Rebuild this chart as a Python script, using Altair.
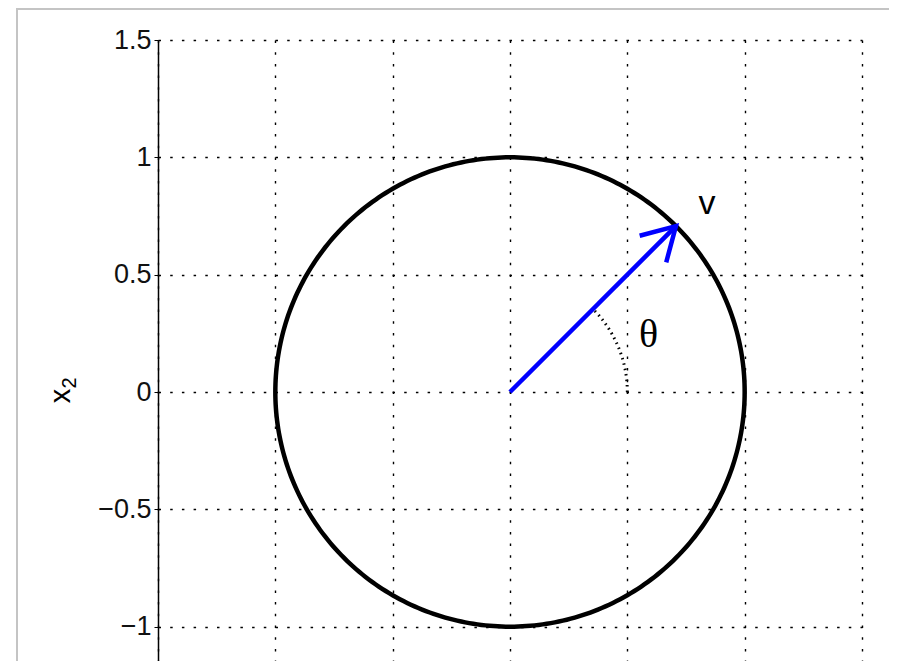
import numpy as np
import pandas as pd
import altair as alt

# ---- values ----
x_grid = [-1.5, -1.0, -0.5, 0.0, 0.5, 1.0, 1.5]
y_ticks = [-1.0, -0.5, 0.0, 0.5, 1.0, 1.5]
x_domain = [-1.5, 1.5]
y_top = 1.5
circle_radius = 1.0
vector_angle_deg = 45.0
theta_arc_radius = 0.5
head_len = 0.16
head_half_angle_deg = 30.0
label_v = "v"
label_theta = "θ"
label_v_pos = [0.84, 0.80]
label_theta_pos = [0.59, 0.245]

# ---- layout ----
W = 704            # plot width in px (-1.5..1.5)
H = 621            # visible plot height in px
px_per_unit = W / (x_domain[1] - x_domain[0])
y_bottom = y_top - H / px_per_unit

# circle
ang = np.linspace(0, 2 * np.pi, 361)
circle = pd.DataFrame({"x": circle_radius * np.cos(ang),
                       "y": circle_radius * np.sin(ang),
                       "i": np.arange(len(ang))})

# theta arc (dotted)
a2 = np.linspace(0, np.deg2rad(vector_angle_deg), 40)
arc = pd.DataFrame({"x": theta_arc_radius * np.cos(a2),
                    "y": theta_arc_radius * np.sin(a2),
                    "i": np.arange(len(a2))})

# vector and arrowhead
t = np.deg2rad(vector_angle_deg)
tipx, tipy = circle_radius * np.cos(t), circle_radius * np.sin(t)
back = t + np.pi
h = np.deg2rad(head_half_angle_deg)
arrow = pd.DataFrame({
    "x": [0.0, tipx, tipx + head_len * np.cos(back - h), tipx, tipx + head_len * np.cos(back + h)],
    "y": [0.0, tipy, tipy + head_len * np.sin(back - h), tipy, tipy + head_len * np.sin(back + h)],
    "seg": ["shaft", "shaft", "head", "head", "head"],
    "i": [0, 1, 0, 1, 2],
})

labels = pd.DataFrame({"x": [label_v_pos[0]], "y": [label_v_pos[1]], "t": [label_v]})
labels_th = pd.DataFrame({"x": [label_theta_pos[0]], "y": [label_theta_pos[1]], "t": [label_theta]})

xs = alt.Scale(domain=x_domain, nice=False, zero=False)
ys = alt.Scale(domain=[y_bottom, y_top], nice=False, zero=False)

x_axis = alt.Axis(values=x_grid, grid=True, labels=False, ticks=False, domain=False, title="")
y_axis = alt.Axis(values=y_ticks, grid=True, format="~g", title="", orient="left",
                  labelFont="Liberation Sans", labelFontSize=27, labelColor="#111111",
                  domainColor="black", domainWidth=1.5, tickColor="black", tickSize=4,
                  labelPadding=3)

X = alt.X("x:Q", scale=xs, axis=x_axis)
Y = alt.Y("y:Q", scale=ys, axis=y_axis)

circle_layer = alt.Chart(circle).mark_line(color="black", strokeWidth=4.5, clip=True).encode(
    x=X, y=Y, order="i:Q")

arc_layer = alt.Chart(arc).mark_line(color="black", strokeWidth=3, strokeDash=[1.5, 4]).encode(
    x=X, y=Y, order="i:Q")

arrow_layer = alt.Chart(arrow).mark_line(color="#0000ff", strokeWidth=4.5, strokeCap="butt").encode(
    x=X, y=Y, detail="seg:N", order="i:Q")

v_layer = alt.Chart(labels).mark_text(font="Liberation Sans", fontSize=34, color="black").encode(
    x=X, y=Y, text="t:N")
th_layer = alt.Chart(labels_th).mark_text(font="Liberation Serif", fontSize=40, color="black").encode(
    x=X, y=Y, text="t:N")

# y-axis title "x2" as rotated text
title_x = alt.Chart(pd.DataFrame({"t": ["x"]})).mark_text(
    font="Liberation Sans", fontSize=29, color="black", angle=270).encode(
    x=alt.value(-97), y=alt.value(356), text="t:N")
title_2 = alt.Chart(pd.DataFrame({"t": ["2"]})).mark_text(
    font="Liberation Sans", fontSize=20, color="black", angle=270).encode(
    x=alt.value(-88), y=alt.value(343), text="t:N")

# light frame of the figure window
frame_v = alt.Chart(pd.DataFrame({"a": [0]})).mark_rule(color="#c4c4c4", strokeWidth=2).encode(
    x=alt.value(-141), y=alt.value(-31), y2=alt.value(H + 10))
frame_h = alt.Chart(pd.DataFrame({"a": [0]})).mark_rule(color="#c4c4c4", strokeWidth=2).encode(
    x=alt.value(-142), x2=alt.value(W + 40), y=alt.value(-31))

chart = alt.layer(circle_layer, arc_layer, arrow_layer, v_layer, th_layer,
                  title_x, title_2, frame_v, frame_h).properties(
    width=W, height=H,
    autosize=alt.AutoSizeParams(type="none"),
    padding={"left": 150, "top": 32, "right": 27, "bottom": 0},
).configure_view(strokeWidth=0).configure_axis(
    gridColor="black", gridDash=[2.5, 9.2], gridWidth=1.4, gridOpacity=1,
)

chart.save("out.html", embed_options={"renderer": "svg", "actions": False})
